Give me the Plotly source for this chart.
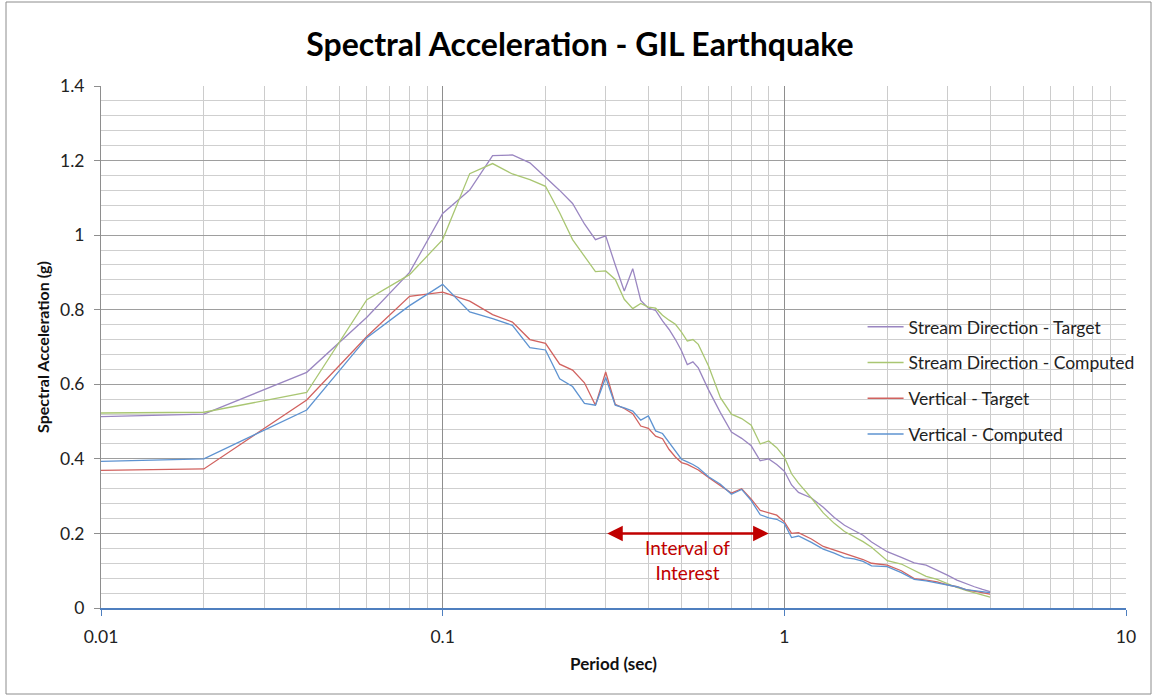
import numpy as np
import plotly.graph_objects as go

# period (sec)
periods = [0.01, 0.02, 0.04, 0.06, 0.08,
           0.10, 0.12, 0.14, 0.16, 0.18, 0.20, 0.22, 0.24, 0.26, 0.28,
           0.30, 0.32, 0.34, 0.36, 0.38, 0.40, 0.42, 0.44, 0.46, 0.48,
           0.50, 0.52, 0.54, 0.56,
           0.60, 0.65, 0.70, 0.75, 0.80, 0.85, 0.90, 0.95, 1.00,
           1.05, 1.10, 1.2, 1.3, 1.4, 1.5, 1.6, 1.7, 1.8,
           2.0, 2.2, 2.4, 2.6, 2.8, 3.0, 3.2, 3.4, 3.6, 3.8, 4.0]

stream_target = [0.513, 0.520, 0.632, 0.780, 0.900,
                 1.058, 1.121, 1.213, 1.215, 1.194, 1.155, 1.120, 1.085, 1.030, 0.988,
                 0.998, 0.920, 0.850, 0.910, 0.825, 0.804, 0.798, 0.770, 0.747, 0.720,
                 0.690, 0.653, 0.660, 0.644,
                 0.585, 0.524, 0.472, 0.455, 0.435, 0.395, 0.400, 0.385, 0.367,
                 0.330, 0.310, 0.295, 0.270, 0.243, 0.222, 0.208, 0.195, 0.177,
                 0.151, 0.136, 0.121, 0.115, 0.102, 0.088, 0.075, 0.065, 0.057, 0.050, 0.044]

stream_computed = [0.523, 0.525, 0.578, 0.827, 0.894,
                   0.988, 1.165, 1.192, 1.164, 1.149, 1.131, 1.060, 0.988, 0.944, 0.902,
                   0.904, 0.881, 0.828, 0.803, 0.817, 0.807, 0.804, 0.785, 0.772, 0.761,
                   0.740, 0.716, 0.720, 0.707,
                   0.649, 0.564, 0.520, 0.508, 0.490, 0.440, 0.448, 0.430, 0.405,
                   0.360, 0.335, 0.295, 0.255, 0.227, 0.205, 0.192, 0.178, 0.163,
                   0.127, 0.118, 0.101, 0.085, 0.077, 0.065, 0.055, 0.047, 0.040, 0.034, 0.029]

vertical_target = [0.369, 0.373, 0.558, 0.728, 0.836,
                   0.847, 0.823, 0.787, 0.767, 0.720, 0.710, 0.654, 0.638, 0.604, 0.544,
                   0.633, 0.546, 0.535, 0.521, 0.488, 0.482, 0.461, 0.454, 0.425, 0.405,
                   0.390, 0.385, 0.378, 0.370,
                   0.350, 0.327, 0.308, 0.320, 0.292, 0.262, 0.255, 0.249, 0.231,
                   0.200, 0.202, 0.185, 0.165, 0.155, 0.145, 0.137, 0.130, 0.120,
                   0.115, 0.100, 0.079, 0.075, 0.070, 0.062, 0.057, 0.049, 0.045, 0.040, 0.037]

vertical_computed = [0.393, 0.400, 0.531, 0.725, 0.811,
                     0.868, 0.794, 0.776, 0.758, 0.698, 0.692, 0.615, 0.594, 0.549, 0.544,
                     0.618, 0.544, 0.537, 0.528, 0.504, 0.515, 0.475, 0.468, 0.443, 0.420,
                     0.399, 0.392, 0.385, 0.376,
                     0.352, 0.332, 0.305, 0.318, 0.288, 0.250, 0.242, 0.238, 0.227,
                     0.189, 0.193, 0.176, 0.158, 0.147, 0.135, 0.132, 0.125, 0.113,
                     0.111, 0.095, 0.077, 0.073, 0.068, 0.062, 0.057, 0.049, 0.046, 0.043, 0.041]

series = [
    ("Stream Direction - Target", stream_target, "#9a86c1"),
    ("Stream Direction - Computed", stream_computed, "#a9c672"),
    ("Vertical - Target", vertical_target, "#d1625f"),
    ("Vertical - Computed", vertical_computed, "#5e93d1"),
]

interval_start, interval_end, interval_level = 0.3, 0.9, 0.2

x_ticks = [0.01, 0.1, 1, 10]
x_ticktext = ["0.01", "0.1", "1", "10"]
x_minor = [m * d for d in [0.01, 0.1, 1] for m in range(2, 10)]

FONT = "Lato, 'Open Sans', sans-serif"

fig = go.Figure()
for i, (name, vals, color) in enumerate(series):
    fig.add_trace(go.Scatter(
        x=periods, y=vals, mode="lines", name=name,
        legendgroup="g%d" % i,
        line=dict(color=color, width=1.3),
    ))

fig.update_layout(
    width=1153, height=696,
    paper_bgcolor="white", plot_bgcolor="white",
    margin=dict(l=101, r=27, t=86, b=88),
    font=dict(family=FONT, color="#222222", size=17),
    title=dict(text="<b>Spectral Acceleration - GIL Earthquake</b>",
               x=0.503, xanchor="center", y=1 - 45 / 696, yanchor="middle",
               font=dict(size=32, color="black", family=FONT)),
    legend=dict(x=0.743, y=0.573, xanchor="left", yanchor="top",
                bgcolor="rgba(0,0,0,0)", font=dict(size=17.5, color="#222222"),
                tracegroupgap=10, itemwidth=36),
    showlegend=True,
)

fig.update_xaxes(
    type="log", range=[-2, 1],
    tickmode="array", tickvals=x_ticks, ticktext=x_ticktext,
    tickfont=dict(size=17.5),
    showgrid=True, gridcolor="#8e8e8e", gridwidth=1,
    minor=dict(tickmode="array", tickvals=x_minor, showgrid=True,
               gridcolor="#cccccc", gridwidth=1),
    showline=True, linecolor="#4f7fbf", linewidth=1.5,
    ticks="outside", ticklen=6, tickcolor="#4f7fbf",
    ticklabelstandoff=6, zeroline=False,
    title=dict(text="<b>Period (sec)</b>", font=dict(size=17, color="#111111"), standoff=12),
)
fig.update_yaxes(
    range=[0, 1.4], dtick=0.2, tick0=0,
    tickfont=dict(size=17.5),
    showgrid=True, gridcolor="#9e9e9e", gridwidth=1,
    minor=dict(dtick=0.04, showgrid=True, gridcolor="#cfcfcf", gridwidth=1),
    showline=True, linecolor="#8e8e8e", linewidth=1,
    ticks="outside", ticklen=6, tickcolor="#8e8e8e",
    ticklabelstandoff=6, zeroline=False,
    title=dict(text="<b>Spectral Acceleration (g)</b>", font=dict(size=16, color="#111111"), standoff=6),
)

# interval of interest
fig.add_annotation(
    x=np.log10(interval_end), y=interval_level,
    ax=np.log10(interval_start), ay=interval_level,
    xref="x", yref="y", axref="x", ayref="y",
    text="", showarrow=True, arrowhead=2, startarrowhead=2,
    arrowside="end+start", arrowsize=1.2, arrowwidth=2.6, arrowcolor="#c00000",
)
fig.add_annotation(
    x=(np.log10(interval_start) + np.log10(interval_end)) / 2, y=interval_level,
    xref="x", yref="y", yanchor="top", yshift=-1,
    text="Interval of<br>Interest", showarrow=False,
    font=dict(size=19, color="#c00000", family=FONT),
)

# chart area border
fig.add_shape(type="rect", xref="paper", yref="paper",
              x0=-95 / 1025, x1=1 + 25 / 1025, y0=-86 / 522, y1=1 + 84 / 522,
              line=dict(color="#8c8c8c", width=1))

fig.write_html("out.html", config={"displayModeBar": False},
               post_script="document.body.style.margin='0px';")
